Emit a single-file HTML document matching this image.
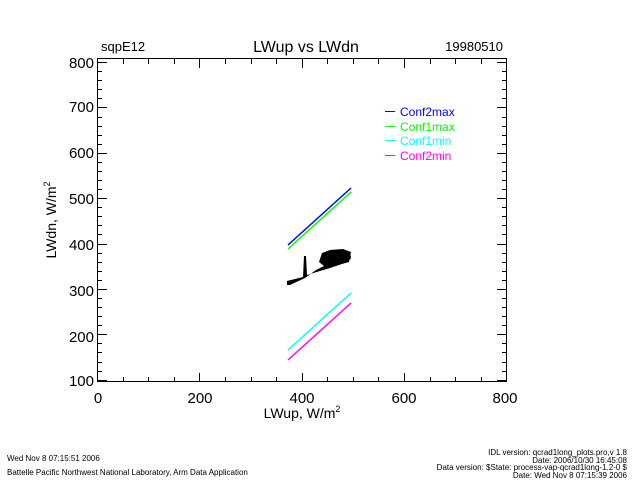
<!DOCTYPE html>
<html><head><meta charset="utf-8"><style>
html,body{margin:0;padding:0;background:#fff;}
svg{display:block;font-family:"Liberation Sans",sans-serif;}
</style></head><body>
<svg width="640" height="480" viewBox="0 0 640 480">
<rect width="640" height="480" fill="#fff"/>
<text x="101" y="51" font-size="13">sqpE12</text>
<text x="306" y="52" font-size="16" text-anchor="middle">LWup vs LWdn</text>
<text x="503" y="51" font-size="13" text-anchor="end">19980510</text>
<rect x="97.5" y="58.5" width="409" height="323" fill="none" stroke="#000" stroke-width="1"/>
<g stroke="#000" stroke-width="1">
<!-- x ticks -->
<path d="M97.5 382v-9M199.5 382v-9M302.5 382v-9M404.5 382v-9M506.5 382v-9
M97.5 59v9M199.5 59v9M302.5 59v9M404.5 59v9M506.5 59v9
M123.5 382v-5M148.5 382v-5M174.5 382v-5M225.5 382v-5M251.5 382v-5M276.5 382v-5M327.5 382v-5M353.5 382v-5M378.5 382v-5M430.5 382v-5M455.5 382v-5M481.5 382v-5
M123.5 59v5M148.5 59v5M174.5 59v5M225.5 59v5M251.5 59v5M276.5 59v5M327.5 59v5M353.5 59v5M378.5 59v5M430.5 59v5M455.5 59v5M481.5 59v5"/>
<!-- y ticks -->
<path d="M98 380.5h9M98 334.5h9M98 289.5h9M98 244.5h9M98 198.5h9M98 153.5h9M98 107.5h9M98 62.5h9
M506 380.5h-9M506 334.5h-9M506 289.5h-9M506 244.5h-9M506 198.5h-9M506 153.5h-9M506 107.5h-9M506 62.5h-9"/>
<path d="M98 371.5h4M98 362.5h4M98 352.5h4M98 343.5h4M98 325.5h4M98 316.5h4M98 307.5h4M98 298.5h4M98 280.5h4M98 271.5h4M98 262.5h4M98 253.5h4M98 234.5h4M98 225.5h4M98 216.5h4M98 207.5h4M98 189.5h4M98 180.5h4M98 171.5h4M98 162.5h4M98 144.5h4M98 135.5h4M98 126.5h4M98 117.5h4M98 98.5h4M98 89.5h4M98 80.5h4M98 71.5h4
M506 371.5h-4M506 362.5h-4M506 352.5h-4M506 343.5h-4M506 325.5h-4M506 316.5h-4M506 307.5h-4M506 298.5h-4M506 280.5h-4M506 271.5h-4M506 262.5h-4M506 253.5h-4M506 234.5h-4M506 225.5h-4M506 216.5h-4M506 207.5h-4M506 189.5h-4M506 180.5h-4M506 171.5h-4M506 162.5h-4M506 144.5h-4M506 135.5h-4M506 126.5h-4M506 117.5h-4M506 98.5h-4M506 89.5h-4M506 80.5h-4M506 71.5h-4"/>
</g>
<g font-size="15" text-anchor="end">
<text x="94" y="386">100</text><text x="94" y="342">200</text><text x="94" y="296">300</text><text x="94" y="250">400</text><text x="94" y="204">500</text><text x="94" y="158">600</text><text x="94" y="112">700</text><text x="94" y="68">800</text>
</g>
<g font-size="15" text-anchor="middle">
<text x="98" y="403">0</text><text x="200" y="403">200</text><text x="302" y="403">400</text><text x="404" y="403">600</text><text x="505" y="403">800</text>
</g>
<text x="302" y="418" font-size="14" text-anchor="middle">LWup, W/m<tspan font-size="9" dy="-6">2</tspan></text>
<text transform="translate(56,220) rotate(-90)" font-size="14" text-anchor="middle">LWdn, W/m<tspan font-size="9" dy="-6">2</tspan></text>
<g stroke-width="1.5" fill="none">
<line x1="288" y1="245" x2="351" y2="188" stroke="#0000ff"/>
<line x1="288" y1="249" x2="351" y2="192" stroke="#00ff00"/>
<line x1="288" y1="350" x2="351" y2="293" stroke="#00ffff"/>
<line x1="288" y1="360" x2="351" y2="303" stroke="#ff00ff"/>
</g>
<g fill="#000">
<polygon points="287,281 303,277 304,256 306,256 307,275 320,271 330,268 342,264 349,262 351,252 343,249 330,250 322,253 319,262 324,266 316,270 305,278 290,285 287,285"/>
<ellipse cx="336" cy="257" rx="15" ry="7"/>
</g>
<g font-size="12">
<line x1="385" y1="111.5" x2="395" y2="111.5" stroke="#0000ff"/><text x="400" y="116" fill="#0000ff">Conf2max</text>
<line x1="385" y1="126.5" x2="395" y2="126.5" stroke="#00ff00"/><text x="400" y="131" fill="#00ff00">Conf1max</text>
<line x1="385" y1="140.5" x2="395" y2="140.5" stroke="#00ffff"/><text x="400" y="145" fill="#00ffff">Conf1min</text>
<line x1="385" y1="155.5" x2="395" y2="155.5" stroke="#ff00ff"/><text x="400" y="160" fill="#ff00ff">Conf2min</text>
</g>
<g font-size="8">
<text x="7" y="461">Wed Nov  8 07:15:51 2006</text>
<text x="7" y="475">Battelle Pacific Northwest National Laboratory, Arm Data Application</text>
<g text-anchor="end">
<text x="627" y="455">IDL version: qcrad1long_plots.pro,v 1.8</text>
<text x="627" y="463">Date: 2006/10/30 16:45:08</text>
<text x="627" y="470">Data version: $State: process-vap-qcrad1long-1.2-0 $</text>
<text x="627" y="478">Date: Wed Nov  8 07:15:39 2006</text>
</g>
</g>
</svg>
</body></html>
